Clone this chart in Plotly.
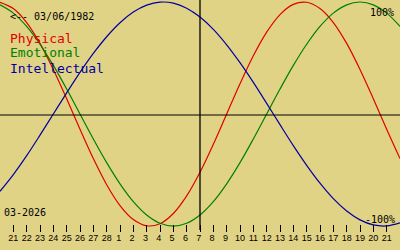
import plotly.graph_objects as go

# Day index 0..30 (Feb 20 .. Mar 22, 2026); ticks shown for 21 Feb .. 21 Mar
day_index = [0, 1, 2, 3, 4, 5, 6, 7, 8, 9, 10, 11, 12, 13, 14, 15,
             16, 17, 18, 19, 20, 21, 22, 23, 24, 25, 26, 27, 28, 29, 30]
tick_index = day_index[1:30]
tick_labels = ["21", "22", "23", "24", "25", "26", "27", "28",
               "1", "2", "3", "4", "5", "6", "7", "8", "9",
               "10", "11", "12", "13", "14", "15", "16", "17", "18", "19", "20", "21"]

physical = [0.998, 0.942, 0.817, 0.631, 0.398, 0.136, -0.136, -0.398, -0.631, -0.817,
            -0.942, -0.998, -0.979, -0.888, -0.731, -0.520, -0.270, 0.0, 0.270, 0.520,
            0.731, 0.888, 0.979, 0.998, 0.942, 0.817, 0.631, 0.398, 0.136, -0.136, -0.398]
emotional = [0.975, 0.901, 0.782, 0.623, 0.434, 0.223, 0.0, -0.223, -0.434, -0.623,
             -0.782, -0.901, -0.975, -1.0, -0.975, -0.901, -0.782, -0.623, -0.434, -0.223,
             0.0, 0.223, 0.434, 0.623, 0.782, 0.901, 0.975, 1.0, 0.975, 0.901, 0.782]
intellectual = [-0.690, -0.541, -0.372, -0.189, 0.0, 0.189, 0.372, 0.541, 0.690, 0.815,
                0.910, 0.972, 0.999, 0.990, 0.945, 0.866, 0.756, 0.618, 0.458, 0.282,
                0.095, -0.095, -0.282, -0.458, -0.618, -0.756, -0.866, -0.945, -0.990, -0.999, -0.972]

today_index = 15

RED = "#E00000"
GREEN = "#008000"
BLUE = "#0000A0"
BG = "#E1D386"
MONO = "DejaVu Sans Mono"

# single-digit labels sit slightly left of their tick
tick_text = [t + "\u00a0" if len(t) == 1 else t for t in tick_labels]

fig = go.Figure()
for vals, col in [(physical, RED), (emotional, GREEN), (intellectual, BLUE)]:
    fig.add_trace(go.Scatter(x=day_index, y=vals, mode="lines",
                             line=dict(color=col, width=1.2, shape="spline", smoothing=1),
                             hoverinfo="skip", showlegend=False))

W, H = 400, 250
def px(x):
    return x / W
def py(y):
    return (H - y) / H

fig.add_shape(type="line", xref="paper", yref="paper", x0=0, x1=1, y0=py(115), y1=py(115),
              line=dict(color="black", width=1))
fig.add_shape(type="line", xref="x", yref="paper", x0=today_index, x1=today_index,
              y0=py(230), y1=1, line=dict(color="black", width=1.3))

anns = [
    ("<-- 03/06/1982", 9, 16.7, "left", 10, "black"),
    ("Physical", 9, 38.3, "left", 13, RED),
    ("Emotional", 9, 52.7, "left", 13, GREEN),
    ("Intellectual", 9, 68.3, "left", 13, BLUE),
    ("100%", 395, 12.7, "right", 10, "black"),
    ("-100%", 396, 219, "right", 10, "black"),
    ("03-2026", 3, 212.7, "left", 10, "black"),
]
for text, x, y, xa, size, col in anns:
    fig.add_annotation(text=text, xref="paper", yref="paper", x=px(x), y=py(y),
                       xanchor=xa, yanchor="middle", showarrow=False,
                       font=dict(family=MONO, size=size, color=col), borderpad=0)

fig.update_layout(
    width=W, height=H, margin=dict(l=0, r=0, t=0, b=0),
    paper_bgcolor=BG, plot_bgcolor=BG,
    xaxis=dict(range=[0, 30], domain=[0, 1], anchor="free", position=py(224),
               tickmode="array", tickvals=tick_index, ticktext=tick_text,
               ticks="outside", ticklen=7, tickwidth=1, tickcolor="black",
               showline=False, showgrid=False, zeroline=False, ticklabelstandoff=-2,
               tickfont=dict(family="Liberation Sans", size=9, color="black"), fixedrange=True),
    yaxis=dict(range=[-1.214, 1.018], domain=[0, 1], visible=False,
               showgrid=False, zeroline=False, fixedrange=True),
)

fig.write_html("out.html", config={"displayModeBar": False})
